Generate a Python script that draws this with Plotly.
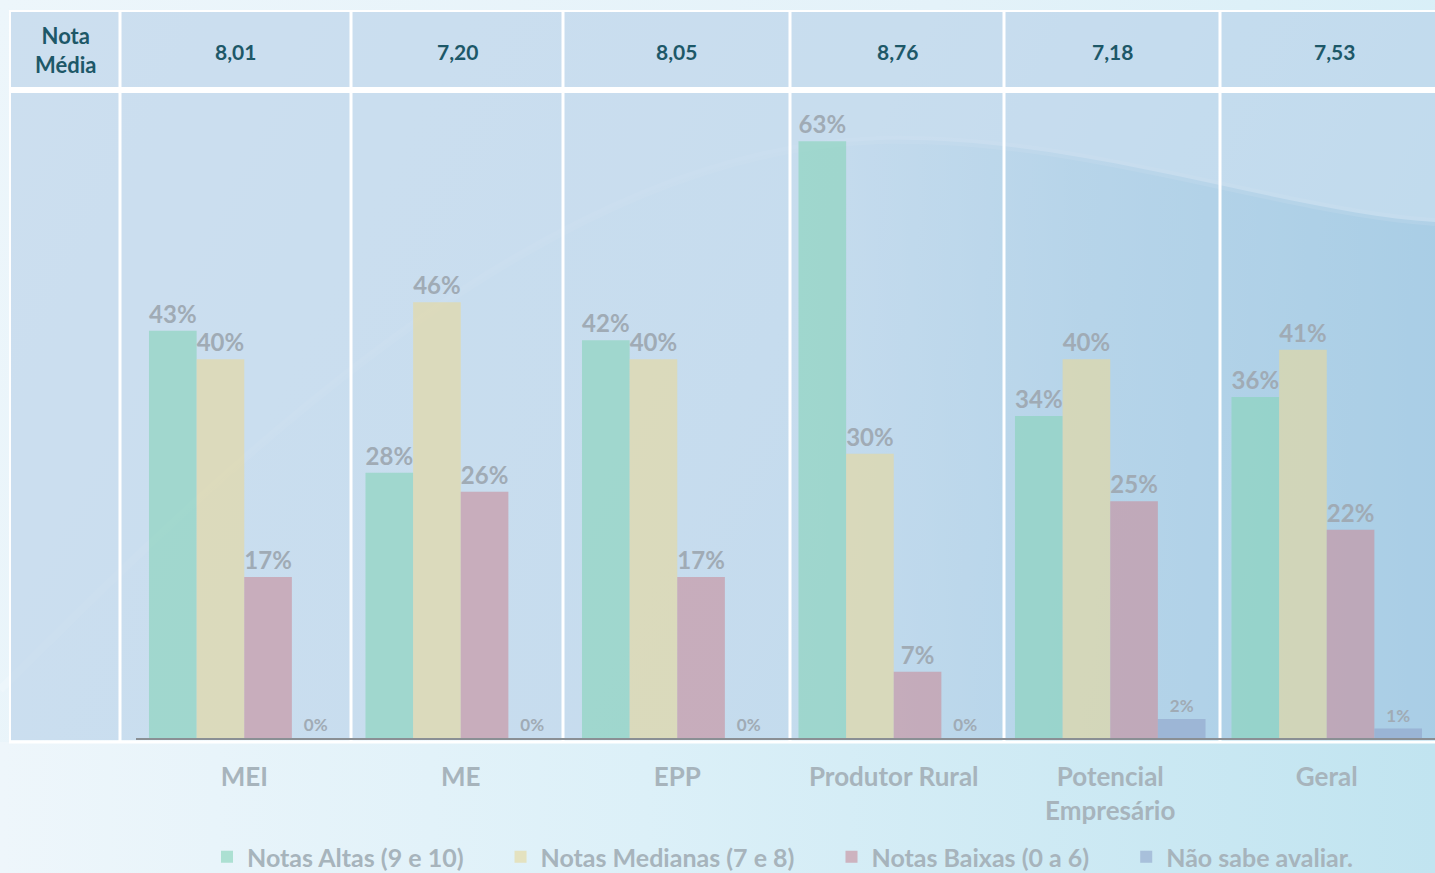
import base64
import plotly.graph_objects as go

# ---- data ----
categories = ["MEI", "ME", "EPP", "Produtor Rural", "Potencial<br>Empresário", "Geral"]
nota_media = ["8,01", "7,20", "8,05", "8,76", "7,18", "7,53"]
notas_altas = [43, 28, 42, 63, 34, 36]
notas_medianas = [40, 46, 40, 30, 40, 41]
notas_baixas = [17, 26, 17, 7, 25, 22]
nao_sabe = [0, 0, 0, 0, 2, 1]
series_names = ["Notas Altas (9 e 10)", "Notas Medianas (7 e 8)",
                "Notas Baixas (0 a 6)", "Não sabe avaliar."]

# ---- styling ----
W, H = 1435, 873
FONT = "Lato"
LABEL_GRAY = "#a0abb5"
TICK_GRAY = "#a7b4bc"
HEAD_TEAL = "#1d5868"
bar_colors = ["rgba(136,211,186,0.62)", "rgba(231,216,156,0.62)",
              "rgba(200,144,157,0.62)", "rgba(141,159,199,0.55)"]
LEGEND_PAD = "\u00a0" * 5  # extra room after each legend entry

# table grid (pixel positions of the white column separators)
col_edges = [10, 120, 351, 563, 790, 1004, 1220, 1448]
table_top, head_bottom, table_bottom = 12, 90, 740

def px(x):
    return x / W

def py(y):
    return 1 - y / H

# soft slide background with a sweeping wave
svg = f"""<svg xmlns='http://www.w3.org/2000/svg' width='{W}' height='{H}' viewBox='0 0 {W} {H}'>
<defs>
<linearGradient id='bg' x1='0' y1='0' x2='1' y2='0.3'>
<stop offset='0' stop-color='#edf6fb'/>
<stop offset='0.6' stop-color='#e4f2f9'/>
<stop offset='1' stop-color='#d6eef7'/>
</linearGradient>
<linearGradient id='wave' x1='0' y1='0' x2='1' y2='0'>
<stop offset='0' stop-color='#a6d2e6' stop-opacity='0'/>
<stop offset='0.55' stop-color='#a6d2e6' stop-opacity='0.05'/>
<stop offset='0.75' stop-color='#98cbe2' stop-opacity='0.4'/>
<stop offset='1' stop-color='#8ec6df' stop-opacity='0.65'/>
</linearGradient>
<linearGradient id='foot' x1='0' y1='0' x2='1' y2='0'>
<stop offset='0' stop-color='#eef6fb'/>
<stop offset='0.45' stop-color='#dcf0f8'/>
<stop offset='1' stop-color='#c1e4f0'/>
</linearGradient>
</defs>
<rect width='{W}' height='{H}' fill='url(#bg)'/>
<path d='M0,690 C260,430 560,150 880,140 C1080,135 1280,212 1435,222 L1435,873 L0,873 Z' fill='url(#wave)'/>
<path d='M0,690 C260,430 560,150 880,140 C1080,135 1280,212 1435,222' fill='none' stroke='#ffffff' stroke-opacity='0.18' stroke-width='8'/>
<rect x='0' y='742' width='{W}' height='{H - 742}' fill='url(#foot)'/>
</svg>"""
bg_src = "data:image/svg+xml;base64," + base64.b64encode(svg.encode()).decode()

fig = go.Figure()

all_series = [notas_altas, notas_medianas, notas_baixas, nao_sabe]
for name, vals, color in zip(series_names, all_series, bar_colors):
    fig.add_trace(go.Bar(
        x=categories, y=vals, name=f"<b>{name}</b>{LEGEND_PAD}",
        marker=dict(color=color, line=dict(width=0)),
        text=[f"<b>{v}%</b>" for v in vals],
        textposition="outside",
        textfont=dict(family=FONT, color=LABEL_GRAY,
                      size=[17 if v < 5 else 24 for v in vals]),
        cliponaxis=False,
        hoverinfo="skip",
    ))

shapes = []
# translucent cell tint
shapes.append(dict(type="rect", xref="paper", yref="paper", layer="below",
                   x0=px(10), x1=1, y0=py(table_bottom), y1=py(table_top),
                   fillcolor="rgba(172,200,228,0.5)", line=dict(width=0)))
# white grid of the table
for i, x in enumerate(col_edges[:-1]):
    shapes.append(dict(type="line", xref="paper", yref="paper", layer="below",
                       x0=px(x), x1=px(x), y0=py(table_bottom + 2), y1=py(table_top - 2),
                       line=dict(color="white", width=2 if i == 0 else 3)))
for y, w in [(table_top - 1, 2), (head_bottom, 6), (table_bottom + 2, 3)]:
    shapes.append(dict(type="line", xref="paper", yref="paper", layer="below",
                       x0=px(9), x1=1, y0=py(y), y1=py(y),
                       line=dict(color="white", width=w)))

annotations = [dict(xref="paper", yref="paper", x=px(65), y=py(50),
                    text="<b>Nota</b><br><b>Média</b>", showarrow=False,
                    font=dict(family=FONT, size=22, color=HEAD_TEAL),
                    xanchor="center", yanchor="middle")]
for i, val in enumerate(nota_media):
    cx = (col_edges[i + 1] + min(col_edges[i + 2], W + 15)) / 2
    annotations.append(dict(xref="paper", yref="paper", x=px(cx), y=py(51),
                            text=f"<b>{val}</b>", showarrow=False,
                            font=dict(family=FONT, size=21, color=HEAD_TEAL),
                            xanchor="center", yanchor="middle"))

fig.update_layout(
    width=W, height=H,
    margin=dict(l=0, r=0, t=0, b=0, autoexpand=False),
    paper_bgcolor="#e6f3f9",
    plot_bgcolor="rgba(0,0,0,0)",
    barmode="group",
    bargap=0.12,
    bargroupgap=0,
    font=dict(family=FONT),
    images=[dict(source=bg_src, xref="paper", yref="paper", x=0, y=1,
                 sizex=1, sizey=1, sizing="stretch", layer="below",
                 xanchor="left", yanchor="top")],
    shapes=shapes,
    annotations=annotations,
    xaxis=dict(domain=[px(136), 1], range=[-0.5, 5.5],
               showline=True, linecolor="#8a8f94", linewidth=1.5,
               showgrid=False, zeroline=False, ticks="",
               tickfont=dict(family=FONT, size=26, color=TICK_GRAY),
               tickvals=categories,
               ticktext=[f"<b>{c.replace('<br>', '</b><br><b>')}</b>" for c in categories],
               ticklabelstandoff=15),
    yaxis=dict(domain=[py(738), py(head_bottom + 3)], range=[0, 68.1],
               visible=False, showgrid=False, zeroline=False),
    legend=dict(orientation="h", x=px(207), xanchor="left", y=py(857),
                yanchor="middle", bgcolor="rgba(0,0,0,0)",
                font=dict(family=FONT, size=25, color=TICK_GRAY),
                itemclick=False, itemdoubleclick=False, tracegroupgap=0),
    showlegend=True,
)

fig.write_html("out.html")
